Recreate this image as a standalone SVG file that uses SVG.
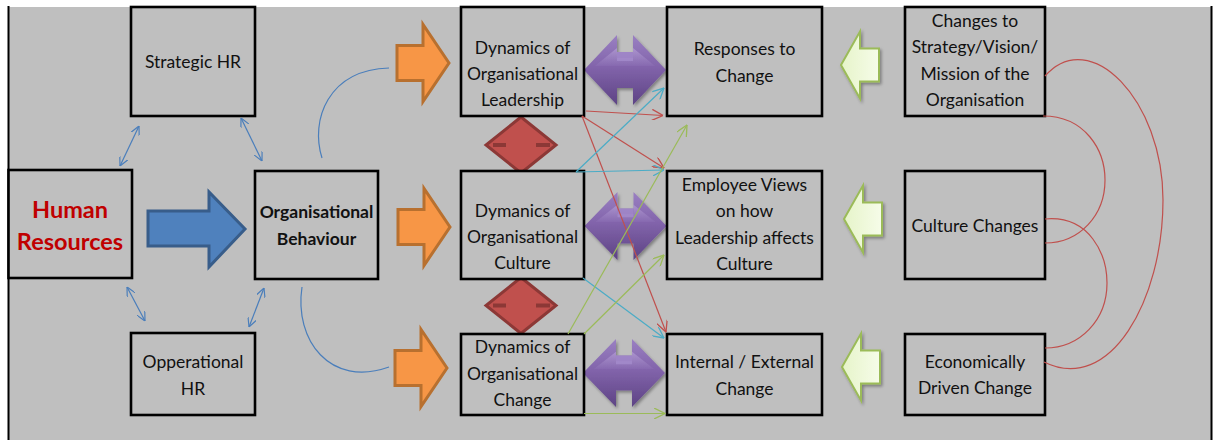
<svg xmlns="http://www.w3.org/2000/svg" width="1219" height="440" viewBox="0 0 1219 440">
  <style>
    .box { fill: #bfbfbf; stroke: #000; stroke-width: 2.6; }
    .lbl { font-family: Lato, "Liberation Sans", sans-serif; font-size: 17.5px; fill: #111; text-anchor: middle; }
    .bold { font-weight: bold; font-size: 17.5px; }
    .hr { font-weight: bold; font-size: 23.5px; fill: #c00000; }
    .thin { fill: none; stroke-width: 1.2; }
    .blue { stroke: #4a7ebb; }
    .red { stroke: #c0504d; }
    .cyan { stroke: #4bacc6; }
    .green { stroke: #9bbb59; }
  </style>
  <defs>
    <marker id="mBlue" viewBox="0 0 10 10" refX="10" refY="5" markerWidth="9" markerHeight="9" markerUnits="userSpaceOnUse" orient="auto-start-reverse">
      <path d="M0,0 L10,5 L0,10" fill="none" stroke="#4a7ebb" stroke-width="1.3"/>
    </marker>
    <marker id="mRed" viewBox="0 0 10 10" refX="10" refY="5" markerWidth="12" markerHeight="11" markerUnits="userSpaceOnUse" orient="auto">
      <path d="M0,0 L10,5 L0,10" fill="none" stroke="#c0504d" stroke-width="1.2"/>
    </marker>
    <marker id="mCyan" viewBox="0 0 10 10" refX="10" refY="5" markerWidth="12" markerHeight="11" markerUnits="userSpaceOnUse" orient="auto">
      <path d="M0,0 L10,5 L0,10" fill="none" stroke="#4bacc6" stroke-width="1.2"/>
    </marker>
    <marker id="mGreen" viewBox="0 0 10 10" refX="10" refY="5" markerWidth="12" markerHeight="11" markerUnits="userSpaceOnUse" orient="auto">
      <path d="M0,0 L10,5 L0,10" fill="none" stroke="#9bbb59" stroke-width="1.2"/>
    </marker>
    <linearGradient id="gPurple" x1="0" y1="0" x2="0" y2="1">
      <stop offset="0" stop-color="#9a80c2"/>
      <stop offset="0.45" stop-color="#8264ab"/>
      <stop offset="1" stop-color="#5d4384"/>
    </linearGradient>
    <linearGradient id="gHi" x1="0" y1="0" x2="0" y2="1">
      <stop offset="0" stop-color="#c2aee0"/>
      <stop offset="1" stop-color="#8a6db3"/>
    </linearGradient>
    <linearGradient id="gLime" x1="0" y1="0" x2="1" y2="0">
      <stop offset="0" stop-color="#e6f4c9"/>
      <stop offset="1" stop-color="#f6fce9"/>
    </linearGradient>
    <filter id="shadow" x="-20%" y="-20%" width="150%" height="150%">
      <feDropShadow dx="1.5" dy="2" stdDeviation="1.5" flood-color="#000" flood-opacity="0.35"/>
    </filter>
    <!-- double-headed block arrow, centred on the origin -->
    <g id="dbl">
      <path d="M-41,0 L-8,-35 L-8,-18 L8,-18 L8,-35 L41,0 L8,35 L8,18 L-8,18 L-8,35 Z" fill="url(#gPurple)"/>
      <path d="M-30,-4 L-8,-22 L-8,-12 L8,-12 L8,-22 L30,-4 Z" fill="url(#gHi)" opacity="0.55"/>
      <path d="M-8,-18 L8,-18 L8,-9 L-8,-9 Z" fill="#a78fcf" opacity="0.7"/>
    </g>
    <!-- right-pointing block arrow, tip at the origin -->
    <path id="orangeArrow" d="M0,0 L-26,-38.5 L-26,-17.5 L-52,-17.5 L-52,17.5 L-26,17.5 L-26,38.5 Z" fill="#f79646" stroke="#b8702f" stroke-width="3" stroke-linejoin="miter"/>
    <!-- left-pointing block arrow, tip at the origin -->
    <path id="limeArrow" d="M0,0 L19,-33.5 L19,-16.5 L38,-16.5 L38,16.5 L19,16.5 L19,33.5 Z" fill="url(#gLime)" stroke="#9bbb59" stroke-width="2"/>
    <!-- diamond with collating marks, centred on the origin -->
    <g id="diamond">
      <path d="M0,-28 L35,0 L0,28 L-35,0 Z" fill="#c0504d" stroke="#8c3836" stroke-width="3"/>
      <path d="M-28,0 H-15 M15,0 H29" stroke="#8c3836" stroke-width="4"/>
    </g>
  </defs>

  <!-- slide background -->
  <rect x="8" y="7" width="1203.5" height="433" fill="#bfbfbf"/>
  <path d="M8.5,6 V440 M1211.5,6 V440" stroke="#000" stroke-width="2"/>

  <!-- block arrows -->
  <g id="shapes">
    <path d="M148,211 L209,211 L209,192 L245,229 L209,267 L209,246 L148,246 Z" fill="#4f81bd" stroke="#385d8a" stroke-width="3"/>
    <use href="#orangeArrow" transform="translate(449,63)"/>
    <use href="#orangeArrow" transform="translate(450,227)"/>
    <use href="#orangeArrow" transform="translate(447,368)"/>
    <g filter="url(#shadow)">
      <use href="#dbl" transform="translate(625,70)"/>
      <use href="#dbl" transform="translate(625.5,226) scale(1,0.97)"/>
      <use href="#dbl" transform="translate(624,373) scale(1,0.97)"/>
    </g>
    <use href="#diamond" transform="translate(521,145)"/>
    <use href="#diamond" transform="translate(521,305.5)"/>
    <g filter="url(#shadow)">
      <use href="#limeArrow" transform="translate(841,65)"/>
      <use href="#limeArrow" transform="translate(844,219)"/>
      <use href="#limeArrow" transform="translate(842,367)"/>
    </g>
  </g>

  <!-- nodes -->
  <g id="strategic-hr">
    <rect class="box" x="131" y="7" width="124" height="109"/>
    <text class="lbl" x="193" y="68">Strategic HR</text>
  </g>
  <g id="human-resources">
    <rect class="box" x="8.5" y="170" width="123.5" height="108"/>
    <text class="lbl hr" x="70" y="218">Human</text>
    <text class="lbl hr" x="70" y="250">Resources</text>
  </g>
  <g id="organisational-behaviour">
    <rect class="box" x="255" y="171" width="123" height="108"/>
    <text class="lbl bold" x="316.5" y="218">Organisational</text>
    <text class="lbl bold" x="316.5" y="245">Behaviour</text>
  </g>
  <g id="operational-hr">
    <rect class="box" x="131" y="333" width="124" height="82"/>
    <text class="lbl" x="193" y="368">Opperational</text>
    <text class="lbl" x="193" y="395">HR</text>
  </g>
  <g id="dynamics-leadership">
    <rect class="box" x="461" y="7" width="123" height="109"/>
    <text class="lbl" x="522.5" y="54">Dynamics of</text>
    <text class="lbl" x="522.5" y="80">Organisational</text>
    <text class="lbl" x="522.5" y="106">Leadership</text>
  </g>
  <g id="dynamics-culture">
    <rect class="box" x="461" y="171" width="123" height="108"/>
    <text class="lbl" x="522.5" y="217">Dymanics of</text>
    <text class="lbl" x="522.5" y="243">Organisational</text>
    <text class="lbl" x="522.5" y="269">Culture</text>
  </g>
  <g id="dynamics-change">
    <rect class="box" x="461" y="334" width="123" height="81"/>
    <text class="lbl" x="522.5" y="353">Dynamics of</text>
    <text class="lbl" x="522.5" y="380">Organisational</text>
    <text class="lbl" x="522.5" y="406">Change</text>
  </g>
  <g id="responses-to-change">
    <rect class="box" x="667" y="7" width="155" height="109"/>
    <text class="lbl" x="744.5" y="55">Responses to</text>
    <text class="lbl" x="744.5" y="82">Change</text>
  </g>
  <g id="employee-views">
    <rect class="box" x="667" y="171" width="155" height="108"/>
    <text class="lbl" x="744.5" y="191">Employee Views</text>
    <text class="lbl" x="744.5" y="217">on how</text>
    <text class="lbl" x="744.5" y="244">Leadership affects</text>
    <text class="lbl" x="744.5" y="270">Culture</text>
  </g>
  <g id="internal-external-change">
    <rect class="box" x="667" y="334" width="155" height="81"/>
    <text class="lbl" x="744.5" y="368">Internal / External</text>
    <text class="lbl" x="744.5" y="395">Change</text>
  </g>
  <g id="strategy-changes">
    <rect class="box" x="905" y="7" width="140" height="109"/>
    <text class="lbl" x="975" y="27">Changes to</text>
    <text class="lbl" x="975" y="53">Strategy/Vision/</text>
    <text class="lbl" x="975" y="80">Mission of the</text>
    <text class="lbl" x="975" y="106">Organisation</text>
  </g>
  <g id="culture-changes">
    <rect class="box" x="905" y="171" width="140" height="108"/>
    <text class="lbl" x="975" y="232">Culture Changes</text>
  </g>
  <g id="economic-change">
    <rect class="box" x="905" y="334" width="140" height="81"/>
    <text class="lbl" x="975" y="368">Economically</text>
    <text class="lbl" x="975" y="394">Driven Change</text>
  </g>

  <!-- connectors -->
  <g id="connectors">
    <!-- HR links -->
    <path class="thin blue" d="M120,166 L139,126" marker-start="url(#mBlue)" marker-end="url(#mBlue)"/>
    <path class="thin blue" d="M241,118 L262,161" marker-start="url(#mBlue)" marker-end="url(#mBlue)"/>
    <path class="thin blue" d="M127,287 L145,321" marker-start="url(#mBlue)" marker-end="url(#mBlue)"/>
    <path class="thin blue" d="M249,327 L264,288" marker-start="url(#mBlue)" marker-end="url(#mBlue)"/>
    <path class="thin blue" d="M322,158 C310,120 328,70 389,68"/>
    <path class="thin blue" d="M302,287 C294,340 330,388 389,367"/>

    <!-- dynamics to outcomes -->
    <path class="thin red" d="M586,111 L663,115.5" marker-end="url(#mRed)"/>
    <path class="thin red" d="M582,116 L664,168" marker-end="url(#mRed)"/>
    <path class="thin red" d="M582,116 L666,332" marker-end="url(#mRed)"/>
    <path class="thin cyan" d="M576,172 L664,88" marker-end="url(#mCyan)"/>
    <path class="thin cyan" d="M576,172 L664,170" marker-end="url(#mCyan)"/>
    <path class="thin cyan" d="M583,278 L664,338" marker-end="url(#mCyan)"/>
    <path class="thin green" d="M568,334 L687,125" marker-end="url(#mGreen)"/>
    <path class="thin green" d="M584,334 L664,255" marker-end="url(#mGreen)"/>
    <path class="thin green" d="M584,413.5 L665,413.5" marker-end="url(#mGreen)"/>

    <!-- drivers of change -->
    <path class="thin red" d="M1045,76 C1090,25 1163,100 1163,200 C1163,300 1110,395 1044,362"/>
    <path class="thin red" d="M1043,116 C1085,116 1105,150 1105,180 C1105,215 1080,243 1045,243"/>
    <path class="thin red" d="M1045,219 C1090,215 1107,255 1107,283 C1107,320 1080,348 1045,348"/>
  </g>
</svg>
